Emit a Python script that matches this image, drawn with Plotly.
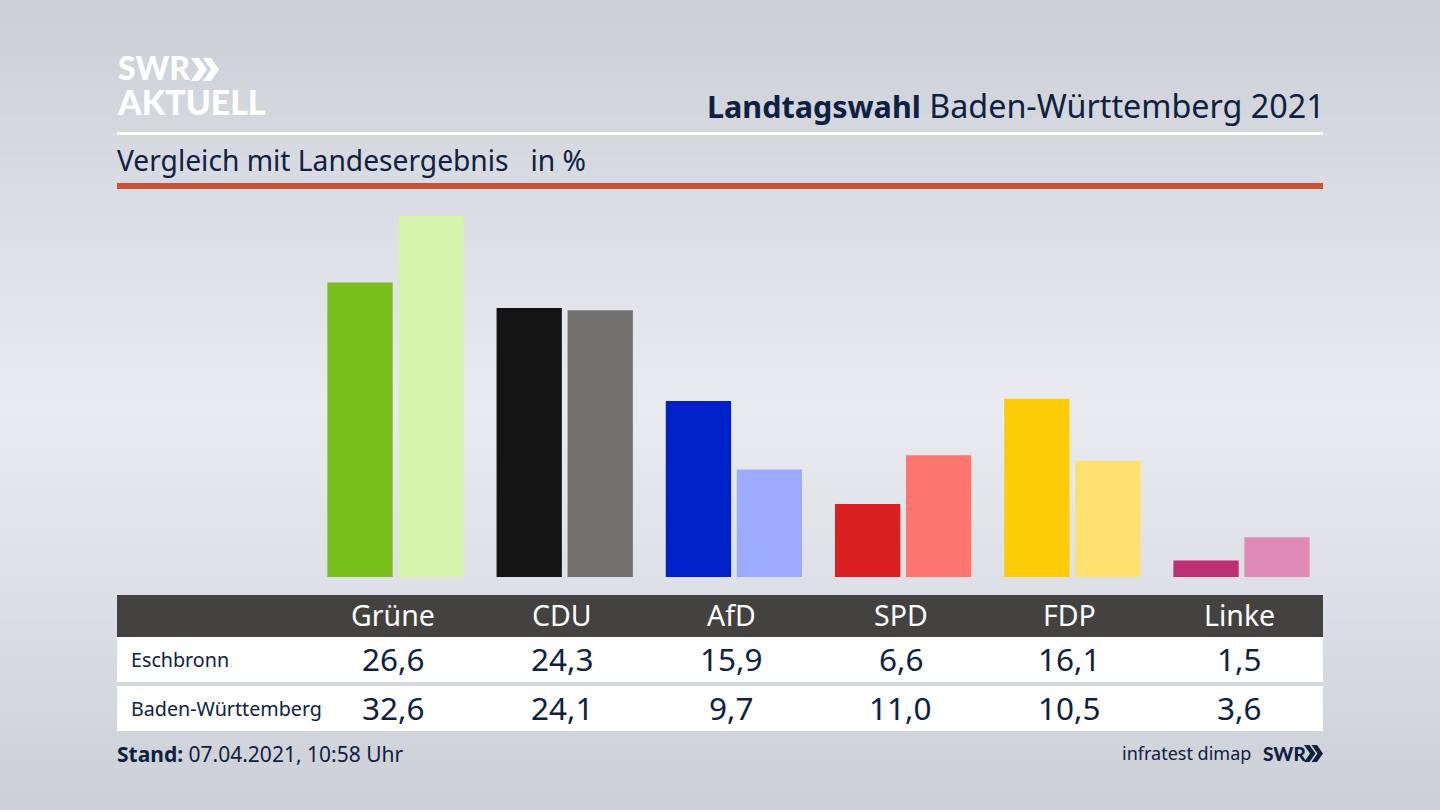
import plotly.graph_objects as go

parties = ["Grüne", "CDU", "AfD", "SPD", "FDP", "Linke"]
eschbronn = [26.6, 24.3, 15.9, 6.6, 16.1, 1.5]
land = [32.6, 24.1, 9.7, 11.0, 10.5, 3.6]
colors_local = ["#78be1a", "#141414", "#0020c8", "#d91f1f", "#ffcc0a", "#bd3075"]
colors_land = ["#d6f5a8", "#72716f", "#9dabff", "#ff7570", "#ffe170", "#e08ab8"]

# background shading, top to bottom
bg_y = [0, 0.25, 0.5, 0.75, 1]
bg_z = [0, 0.55, 1, 0.5, 0]
bg_scale = [[0, "#cbcfd6"], [1, "#e9ebf0"]]

NAVY = "#0f2140"
FONT = "Noto Sans"


def py(p):
    return 1 - p / 810


fig = go.Figure()
fig.add_trace(go.Heatmap(x=[0, 1], y=bg_y, z=[[v, v] for v in bg_z], colorscale=bg_scale,
                         showscale=False, zsmooth="best", hoverinfo="skip", xaxis="x", yaxis="y"))
fig.add_trace(go.Bar(x=parties, y=eschbronn, marker=dict(color=colors_local, line_width=0),
                     name="Eschbronn", xaxis="x2", yaxis="y2"))
fig.add_trace(go.Bar(x=parties, y=land, marker=dict(color=colors_land, line_width=0),
                     name="Baden-Württemberg", xaxis="x2", yaxis="y2"))

shapes = []
def rect(x0, y0, x1, y1, color):
    shapes.append(dict(type="rect", xref="paper", yref="paper", x0=x0 / 1440, x1=x1 / 1440,
                       y0=py(y0), y1=py(y1), fillcolor=color, line_width=0, layer="above"))

def chevron(x, top, bot, t, d, color):
    # logo arrow, drawn in pixels
    mid = (top + bot) / 2
    pts = [(x, top), (x + t, top), (x + t + d, mid), (x + t, bot), (x, bot), (x + d, mid)]
    path = "M" + " L".join(f"{a / 1440:.5f},{py(b):.5f}" for a, b in pts) + " Z"
    shapes.append(dict(type="path", xref="paper", yref="paper", path=path,
                       fillcolor=color, line_width=0, layer="above"))

rect(117, 132, 1323, 135, "#ffffff")
rect(117, 183, 1323, 189, "#c9533a")
rect(117, 595, 1323, 637, "#434240")
rect(117, 637, 1323, 682, "#ffffff")
rect(117, 686, 1323, 731, "#ffffff")
chevron(191, 58, 81, 8, 8, "#ffffff")
chevron(203, 58, 81, 8, 8, "#ffffff")
chevron(1304, 745, 762, 5.5, 6, NAVY)
chevron(1311.5, 745, 762, 5.5, 6, NAVY)

notes = []
def label(x, y, text, size, color=NAVY, anchor="left", family=FONT, weight=400):
    # annotations carry about 2px of padding, pull the text back onto x
    notes.append(dict(xref="paper", yref="paper", x=x / 1440, y=py(y), text=text, showarrow=False,
                      xanchor=anchor, yanchor="middle", align=anchor,
                      xshift=-2 if anchor == "left" else 2,
                      font=dict(family=family, size=size, color=color, weight=weight)))

# one text for the logo, the small base size keeps the two lines tight
label(117, 85, "<span style='font-size:32px'>SWR</span><br><span style='font-size:33.8px'>AKTUELL</span>",
      27, "#ffffff", family="Lato", weight=900)
label(1325, 105, "<b><span style='font-size:30.5px'>Landtagswahl</span></b> Baden-Württemberg 2021", 32.3, anchor="right")
label(117, 160, "Vergleich mit Landesergebnis&nbsp;&nbsp;&nbsp;in %", 28.2)
label(131, 659, "Eschbronn", 19.7)
label(131, 708, "Baden-Württemberg", 19.7)
label(117, 754, "<b>Stand:</b> 07.04.2021, 10:58 Uhr", 21)
label(1251, 753, "infratest dimap", 18, anchor="right")
label(1263, 753, "SWR", 19, family="Lato", weight=900)

for party, a, b in zip(parties, eschbronn, land):
    for text, y, size, color in [(party, 615, 28.5, "#ffffff"),
                                 (f"{a:.1f}".replace(".", ","), 658, 31.5, NAVY),
                                 (f"{b:.1f}".replace(".", ","), 707, 31.5, NAVY)]:
        notes.append(dict(xref="x2", yref="paper", x=party, y=py(y), text=text, showarrow=False,
                          xshift=-2.5, xanchor="center", yanchor="middle",
                          font=dict(family=FONT, size=size, color=color)))

hidden = dict(visible=False, fixedrange=True)
fig.update_layout(
    width=1440, height=810, margin=dict(l=0, r=0, t=0, b=0),
    paper_bgcolor="#dfe1e6", plot_bgcolor="rgba(0,0,0,0)", showlegend=False, barmode="group",
    bargap=0.161, bargroupgap=0.08,
    xaxis=dict(domain=[0, 1], range=[0, 1], **hidden),
    yaxis=dict(domain=[0, 1], range=[0, 1], **hidden),
    xaxis2=dict(domain=[0, 1], range=[-2.3375, 6.173], type="category",
                categoryorder="array", categoryarray=parties, anchor="y2", **hidden),
    yaxis2=dict(domain=[py(577), 1], range=[0, 577 / 11.07], anchor="x2", **hidden),
    shapes=shapes, annotations=notes,
)
fig.write_html("out.html", config=dict(displayModeBar=False),
               post_script="document.body.style.margin='0';")
